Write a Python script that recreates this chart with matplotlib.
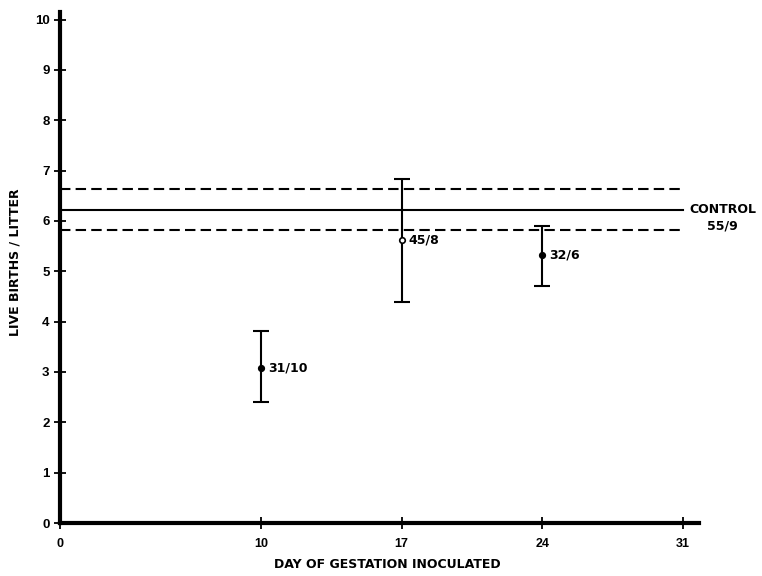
import matplotlib
matplotlib.use("Agg")
import matplotlib.pyplot as plt

# Data
days = [10, 17, 24]
means = [3.08, 5.63, 5.33]
upper = [3.82, 6.84, 5.90]
lower = [2.41, 4.39, 4.71]
labels = ["31/10", "45/8", "32/6"]
filled = [True, False, True]
control_mean = 6.22
control_upper = 6.64
control_lower = 5.82
xticks = [0, 10, 17, 24, 31]
yticks = list(range(0, 11))

plt.rcParams['font.family'] = ['DejaVu Sans']
plt.rcParams['font.weight'] = 'bold'

fig = plt.figure(figsize=(7.62, 5.76), dpi=100)
ax = fig.add_axes([60/762, 53/576, 639/762, 511/576])
ax.set_xlim(0, 31.8)
ax.set_ylim(0, 10.15)

dash = (0, (5, 2.5))
# control lines
ax.plot([0, 31], [control_mean, control_mean], color='black', lw=1.5)
ax.plot([0, 31], [control_upper, control_upper], color='black', lw=1.5, ls=dash)
ax.plot([0, 31], [control_lower, control_lower], color='black', lw=1.5, ls=dash)
ax.text(31.3, control_mean, "CONTROL", ha='left', va='center', fontsize=9, fontweight='bold')
ax.text(32.2, control_lower + 0.08, "55/9", ha='left', va='center', fontsize=9, fontweight='bold')

for d, m, u, l, lab, f in zip(days, means, upper, lower, labels, filled):
    ax.errorbar([d], [m], yerr=[[m - l], [u - m]], fmt='none', ecolor='black',
                elinewidth=1.5, capsize=6, capthick=1.5)
    ax.plot([d], [m], marker='o', ms=4, mec='black', mfc='black' if f else 'white', mew=1.2)
    ax.text(d + 0.35, m, lab, ha='left', va='center', fontsize=9, fontweight='bold')

for s in ['top', 'right']:
    ax.spines[s].set_visible(False)
for s in ['left', 'bottom']:
    ax.spines[s].set_linewidth(3)

ax.set_xticks(xticks)
ax.set_xticklabels([str(t) for t in xticks], fontsize=9, fontweight='bold',
                   family=['Liberation Sans Narrow', 'Liberation Sans', 'DejaVu Sans'])
ax.set_yticks(yticks)
ax.set_yticklabels([str(t) for t in yticks], fontsize=9.5, fontweight='bold',
                   family=['Liberation Sans', 'DejaVu Sans'])
ax.tick_params(axis='both', direction='inout', length=9, width=1.3)
ax.tick_params(axis='x', pad=6)
ax.tick_params(axis='y', pad=3)

ax.set_xlabel("DAY OF GESTATION INOCULATED", fontsize=9, fontweight='bold')
ax.xaxis.set_label_coords((387 - 60) / 639, -(558 - 523) / 511)
ax.set_ylabel("LIVE BIRTHS / LITTER", fontsize=9, fontweight='bold')
ax.yaxis.set_label_coords(-(60 - 21) / 639, 0.51)

fig.savefig("out.png", dpi=100)
